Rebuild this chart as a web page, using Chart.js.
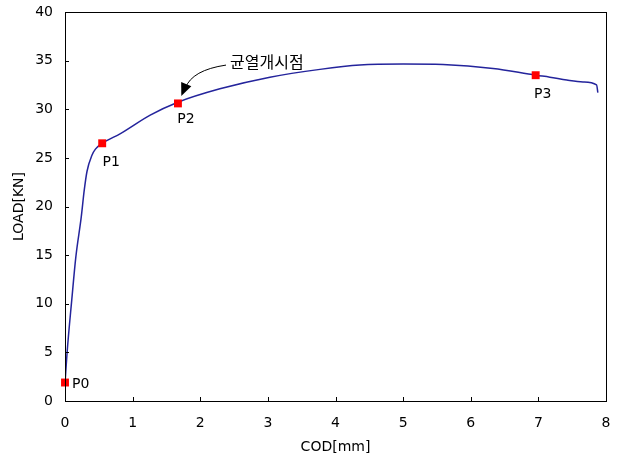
<!DOCTYPE html>
<html>
<head>
<meta charset="utf-8">
<script src="https://cdn.jsdelivr.net/npm/chart.js@4/dist/chart.umd.min.js"></script>
<style>
  html, body { margin: 0; padding: 0; background: #fff; }
  #wrap { width: 618px; height: 459px; }
</style>
</head>
<body>
<div id="wrap"><canvas id="chart" width="618" height="459"></canvas></div>
<script>
"use strict";

// load-COD curve
var codValues  = [0, 0.03, 0.10, 0.16, 0.24, 0.285, 0.325, 0.40, 0.45, 0.55, 0.82, 1.26, 1.66, 2.29, 3.03, 3.77, 4.36, 5.0, 5.59, 6.33, 6.96, 7.17, 7.42, 7.66, 7.86, 7.88];
var loadValues = [1.8, 4.9, 10.4, 14.8, 18.9, 21.7, 23.6, 25.3, 25.9, 26.5, 27.5, 29.4, 30.7, 32.1, 33.3, 34.1, 34.55, 34.65, 34.6, 34.2, 33.5, 33.3, 33.0, 32.8, 32.5, 31.7];

// marked points
var pointNames = ["P0", "P1", "P2", "P3"];
var pointCod   = [0, 0.55, 1.67, 6.96];
var pointLoad  = [1.9, 26.5, 30.6, 33.5];

var xTicks = [0, 1, 2, 3, 4, 5, 6, 7, 8];
var yTicks = [0, 5, 10, 15, 20, 25, 30, 35, 40];

// annotation (data units)
var noteText = "균열개시점";
var noteAt = { x: 2.44, y: 34.85 };
var arrowTip = { x: 1.72, y: 31.35 };

var FONT = "'DejaVu Sans', sans-serif";

var curve = [];
for (var i = 0; i < codValues.length; i++) {
    curve.push({ x: codValues[i], y: loadValues[i] });
}
var marks = [];
for (var i = 0; i < pointNames.length; i++) {
    marks.push({ x: pointCod[i], y: pointLoad[i] });
}

// label offsets in px relative to each point
var labelOffsets = [
    { dx: 7, dy: 2, align: "left" },
    { dx: 9, dy: 19, align: "center" },
    { dx: 8, dy: 16, align: "center" },
    { dx: 7, dy: 19, align: "center" }
];

var framePlugin = {
    id: "frame",
    afterDatasetsDraw: function (chart) {
        var ctx = chart.ctx;
        var a = chart.chartArea;
        var xs = chart.scales.x, ys = chart.scales.y;

        ctx.save();
        ctx.strokeStyle = "#000";
        ctx.lineWidth = 1;
        ctx.strokeRect(Math.round(a.left) + 0.5, Math.round(a.top) + 0.5,
            Math.round(a.right - a.left), Math.round(a.bottom - a.top));

        // inward ticks
        ctx.beginPath();
        xTicks.forEach(function (v) {
            var px = Math.round(xs.getPixelForValue(v)) + 0.5;
            ctx.moveTo(px, a.bottom);
            ctx.lineTo(px, a.bottom - 4);
        });
        yTicks.forEach(function (v) {
            var py = Math.round(ys.getPixelForValue(v)) + 0.5;
            ctx.moveTo(a.left, py);
            ctx.lineTo(a.left + 4, py);
        });
        ctx.stroke();

        // point labels
        ctx.fillStyle = "#000";
        ctx.font = "14px " + FONT;
        ctx.textBaseline = "middle";
        for (var i = 0; i < pointNames.length; i++) {
            var off = labelOffsets[i];
            ctx.textAlign = off.align;
            ctx.fillText(pointNames[i],
                xs.getPixelForValue(pointCod[i]) + off.dx,
                ys.getPixelForValue(pointLoad[i]) + off.dy);
        }

        // annotation text
        var tx = xs.getPixelForValue(noteAt.x);
        var ty = ys.getPixelForValue(noteAt.y);
        ctx.font = "16px 'Noto Sans CJK KR', sans-serif";
        ctx.textAlign = "left";
        ctx.fillText(noteText, tx, ty);

        // arrow
        var sx = tx - 4, sy = ty + 3;
        var ex = xs.getPixelForValue(arrowTip.x), ey = ys.getPixelForValue(arrowTip.y);
        var cx = sx - 34, cy = sy + 5;
        ctx.beginPath();
        ctx.moveTo(sx, sy);
        ctx.quadraticCurveTo(cx, cy, ex + 4, ey - 8);
        ctx.stroke();
        var ang = Math.atan2(ey - cy, ex - cx);
        var len = 13, half = 5.5;
        var bx = ex - len * Math.cos(ang), by = ey - len * Math.sin(ang);
        ctx.beginPath();
        ctx.moveTo(ex, ey);
        ctx.lineTo(bx + half * Math.sin(ang), by - half * Math.cos(ang));
        ctx.lineTo(bx - half * Math.sin(ang), by + half * Math.cos(ang));
        ctx.closePath();
        ctx.fill();
        ctx.restore();
    }
};

var chart = new Chart(document.getElementById("chart").getContext("2d"), {
    type: "scatter",
    data: {
        datasets: [
            {
                data: curve,
                showLine: true,
                borderColor: "#24249c",
                borderWidth: 1.5,
                pointRadius: 0,
                cubicInterpolationMode: "monotone",
                order: 2
            },
            {
                data: marks,
                pointStyle: "rect",
                pointRadius: 5.6,
                pointHoverRadius: 5.6,
                backgroundColor: "#ff0000",
                borderWidth: 0,
                clip: false,
                order: 1
            }
        ]
    },
    options: {
        responsive: false,
        animation: false,
        events: [],
        layout: { padding: { top: 12, right: 12, left: 0, bottom: 0 } },
        plugins: {
            legend: { display: false },
            tooltip: { enabled: false }
        },
        scales: {
            x: {
                type: "linear",
                min: 0,
                max: 8,
                afterFit: function (s) {
                    s.height = 58;
                    s.paddingLeft = 0;
                    s.paddingRight = 0;
                },
                afterBuildTicks: function (s) {
                    s.ticks = xTicks.map(function (v) { return { value: v }; });
                },
                grid: { display: false, drawTicks: false },
                border: { display: false },
                ticks: { color: "#000", padding: 14, font: { size: 14, family: FONT } },
                title: {
                    display: true,
                    text: "COD[mm]",
                    color: "#000",
                    font: { size: 14, family: FONT },
                    padding: { top: 0, bottom: 3 }
                }
            },
            y: {
                type: "linear",
                min: 0,
                max: 40,
                afterFit: function (s) {
                    s.width = 65;
                    s.paddingTop = 0;
                    s.paddingBottom = 0;
                },
                afterBuildTicks: function (s) {
                    s.ticks = yTicks.map(function (v) { return { value: v }; });
                },
                grid: { display: false, drawTicks: false },
                border: { display: false },
                ticks: { color: "#000", padding: 12, font: { size: 14, family: FONT } },
                title: {
                    display: true,
                    text: "LOAD[KN]",
                    color: "#000",
                    font: { size: 14, family: FONT },
                    padding: { top: 11, bottom: 0 }
                }
            }
        }
    },
    plugins: [framePlugin]
});
</script>
</body>
</html>
